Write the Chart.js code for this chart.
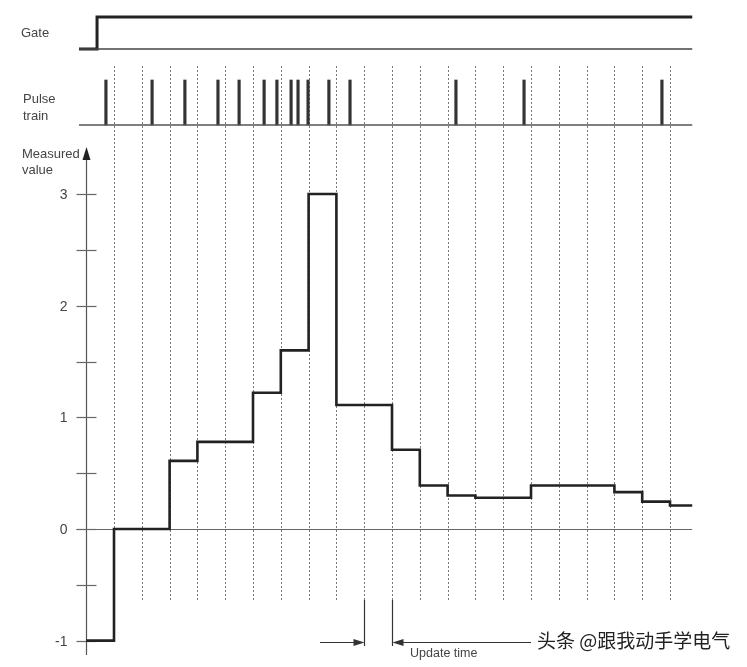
<!DOCTYPE html>
<html>
<head>
<meta charset="utf-8">
<script src="https://cdn.jsdelivr.net/npm/chart.js@4.4.1/dist/chart.umd.min.js"></script>
<style>
  html, body { margin: 0; padding: 0; background: #fff; }
  #wrap { position: relative; width: 747px; height: 667px; }
</style>
</head>
<body>
<div id="wrap"><canvas id="chart" width="747" height="667"></canvas></div>
<script>
// -------------------- Data (time in units of the update time) --------------------
const updateTimes = [0, 1, 2, 3, 4, 5, 6, 7, 8, 9, 10, 11, 12, 13, 14, 15, 16, 17, 18, 19, 20];
const stepTimes = [-1, 0, 1, 2, 3, 4, 5, 6, 7, 8, 9, 10, 11, 12, 13, 14, 15, 16, 17, 18, 19, 20, 20.8];
const measuredValues = [-1, 0, 0, 0.61, 0.78, 0.78, 1.22, 1.6, 3, 1.11, 1.11, 0.71, 0.39, 0.3, 0.28, 0.28, 0.39, 0.39, 0.39, 0.33, 0.245, 0.21, 0.21];
const gateTimes = [-1.26, -0.61, 20.8];
const gateLevels = [0, 1, 1];
const pulseTimes = [-0.29, 1.37, 2.55, 3.74, 4.5, 5.4, 5.86, 6.37, 6.62, 6.98, 7.73, 8.49, 12.3, 14.75, 19.71];
const yTickValues = [-1, -0.5, 0, 0.5, 1, 1.5, 2, 2.5, 3];
const yTickLabels = ['-1', '', '0', '', '1', '', '2', '', '3'];
const baseStart = -1.26;
const baseEnd = 20.8;

// -------------------- Layout helpers --------------------
const W = 747, H = 667;
// linear range so that value v0 lands at pixel p0 and v1 at p1 over a span of len px
function rangeFor(v0, p0, v1, p1, len) {
    const ppu = (p1 - p0) / (v1 - v0);
    const min = v0 - p0 / ppu;
    return { min: min, max: min + len / ppu };
}
const xRange = rangeFor(0, 114, 20, 670, W);
const yRange = (() => { const r = rangeFor(3, 194, 0, 529, H); return { min: r.max, max: r.min }; })();
const gateRange = (() => { const r = rangeFor(1, 17, 0, 49, H); return { min: r.max, max: r.min }; })();
const pulseRange = (() => { const r = rangeFor(1, 80, 0, 125, H); return { min: r.max, max: r.min }; })();

const INK = '#222';
const TEXT = '#444';
const FONT = '"Liberation Sans", Arial, sans-serif';

function arrowHead(ctx, tipX, tipY, dir, len, half) {
    ctx.beginPath();
    ctx.moveTo(tipX, tipY);
    ctx.lineTo(tipX - dir * len, tipY - half);
    ctx.lineTo(tipX - dir * len, tipY + half);
    ctx.closePath();
    ctx.fill();
}

// -------------------- Decorations drawn from the scales --------------------
const overlay = {
    id: 'overlay',
    beforeDatasetsDraw(chart) {
        const ctx = chart.ctx, x = chart.scales.x, y = chart.scales.y;
        ctx.save();
        // dotted update instants
        ctx.strokeStyle = '#777';
        ctx.lineWidth = 1;
        ctx.setLineDash([2, 2]);
        updateTimes.forEach(t => {
            const px = Math.round(x.getPixelForValue(t)) + 0.5;
            ctx.beginPath();
            ctx.moveTo(px, 66);
            ctx.lineTo(px, 600);
            ctx.stroke();
        });
        ctx.setLineDash([]);

        // value axis
        const ax = Math.round(x.getPixelForValue(-1)) + 0.5;
        ctx.strokeStyle = '#555';
        ctx.lineWidth = 1.2;
        ctx.beginPath();
        ctx.moveTo(ax, 655);
        ctx.lineTo(ax, 156);
        ctx.stroke();
        ctx.fillStyle = INK;
        ctx.beginPath();
        ctx.moveTo(ax, 147);
        ctx.lineTo(ax - 4, 160);
        ctx.lineTo(ax + 4, 160);
        ctx.closePath();
        ctx.fill();

        // zero line
        const y0 = Math.round(y.getPixelForValue(0)) + 0.5;
        ctx.strokeStyle = '#666';
        ctx.lineWidth = 1.2;
        ctx.beginPath();
        ctx.moveTo(ax - 10, y0);
        ctx.lineTo(x.getPixelForValue(baseEnd), y0);
        ctx.stroke();

        // ticks + labels
        ctx.font = '14px ' + FONT;
        ctx.textAlign = 'right';
        ctx.textBaseline = 'middle';
        yTickValues.forEach((v, i) => {
            const py = Math.round(y.getPixelForValue(v)) + 0.5;
            ctx.beginPath();
            ctx.moveTo(ax - 10, py);
            ctx.lineTo(ax + 10, py);
            ctx.stroke();
            if (yTickLabels[i]) {
                ctx.fillStyle = TEXT;
                ctx.fillText(yTickLabels[i], ax - 19, py + 1);
            }
        });
        ctx.restore();
    },
    afterDatasetsDraw(chart) {
        const ctx = chart.ctx, x = chart.scales.x;
        ctx.save();
        // row labels
        ctx.fillStyle = TEXT;
        ctx.font = '13px ' + FONT;
        ctx.textAlign = 'left';
        ctx.textBaseline = 'middle';
        ctx.fillText('Gate', 21, 33);
        ctx.fillText('Pulse', 23, 99);
        ctx.fillText('train', 23, 116);
        ctx.fillText('Measured', 22, 154);
        ctx.fillText('value', 22, 170);

        // update time marker
        const a = Math.round(x.getPixelForValue(9)) + 0.5;
        const b = Math.round(x.getPixelForValue(10)) + 0.5;
        ctx.strokeStyle = '#333';
        ctx.fillStyle = '#333';
        ctx.lineWidth = 1.2;
        ctx.beginPath();
        ctx.moveTo(a, 600); ctx.lineTo(a, 646);
        ctx.moveTo(b, 600); ctx.lineTo(b, 646);
        ctx.moveTo(x.getPixelForValue(7.41), 642.5); ctx.lineTo(a - 8, 642.5);
        ctx.moveTo(x.getPixelForValue(15), 642.5); ctx.lineTo(b + 8, 642.5);
        ctx.stroke();
        arrowHead(ctx, a, 642.5, 1, 11, 3.5);
        arrowHead(ctx, b, 642.5, -1, 11, 3.5);

        ctx.fillStyle = TEXT;
        ctx.font = '12.5px ' + FONT;
        ctx.fillText('Update time', x.getPixelForValue(10.65), 654);

        // watermark
        ctx.fillStyle = '#222';
        ctx.font = '19px "Noto Sans CJK SC", sans-serif';
        ctx.fillText('头条 @跟我动手学电气', 537, 641);
        ctx.restore();
    }
};

// -------------------- Chart --------------------
const pts = (xs, ys) => xs.map((t, i) => ({ x: t, y: ys[i] }));

new Chart(document.getElementById('chart'), {
    type: 'line',
    data: {
        datasets: [
            {
                label: 'Gate base',
                data: pts([baseStart, baseEnd], [0, 0]),
                yAxisID: 'yGate',
                borderColor: '#444',
                borderWidth: 1.3
            },
            {
                label: 'Gate',
                data: pts(gateTimes, gateLevels),
                yAxisID: 'yGate',
                stepped: 'before',
                borderColor: INK,
                borderWidth: 3
            },
            {
                label: 'Pulse base',
                data: pts([baseStart, baseEnd], [0, 0]),
                yAxisID: 'yPulse',
                borderColor: '#555',
                borderWidth: 1.3
            },
            {
                type: 'bar',
                label: 'Pulse train',
                data: pulseTimes.map(t => ({ x: t, y: 1 })),
                yAxisID: 'yPulse',
                backgroundColor: '#333',
                barThickness: 2.5
            },
            {
                label: 'Measured value',
                data: pts(stepTimes, measuredValues),
                yAxisID: 'y',
                stepped: 'before',
                borderColor: INK,
                borderWidth: 2.6
            }
        ]
    },
    options: {
        responsive: false,
        devicePixelRatio: 1,
        animation: false,
        layout: { padding: 0 },
        elements: {
            point: { radius: 0 },
            line: { tension: 0, borderJoinStyle: 'miter', borderCapStyle: 'butt' }
        },
        datasets: { line: { clip: false }, bar: { clip: false } },
        scales: {
            x: { type: 'linear', display: false, offset: false, min: xRange.min, max: xRange.max },
            y: { type: 'linear', display: false, min: yRange.min, max: yRange.max },
            yGate: { type: 'linear', display: false, min: gateRange.min, max: gateRange.max },
            yPulse: { type: 'linear', display: false, min: pulseRange.min, max: pulseRange.max }
        },
        plugins: {
            legend: { display: false },
            tooltip: { enabled: false }
        }
    },
    plugins: [overlay]
});
</script>
</body>
</html>
